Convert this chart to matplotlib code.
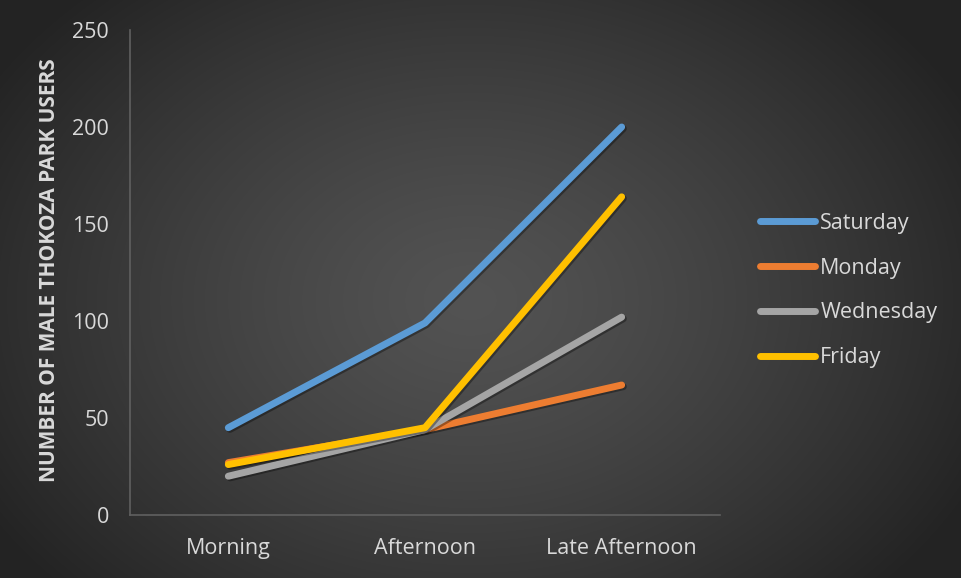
import numpy as np
import matplotlib
matplotlib.use("Agg")
import matplotlib.pyplot as plt
import matplotlib.patheffects as pe
from matplotlib.lines import Line2D

categories = ["Morning", "Afternoon", "Late Afternoon"]
series_names = ["Saturday", "Monday", "Wednesday", "Friday"]
saturday = [45, 99, 200]
monday = [27, 44, 67]
wednesday = [20, 44, 102]
friday = [26, 45, 164]
y_ticks = [0, 50, 100, 150, 200, 250]

colors = ["#5B9BD5", "#ED7D31", "#A5A5A5", "#FFC000"]
text_color = "#D9D9D9"

plt.rcParams['font.family'] = ['Open Sans', 'DejaVu Sans']

W, H = 961, 578
fig = plt.figure(figsize=(W / 100, H / 100), dpi=100)

# radial gradient background
bg = fig.add_axes([0, 0, 1, 1])
yy, xx = np.mgrid[0:H, 0:W]
cx, cy = 470, 300
r = np.sqrt(((xx - cx) / 560.0) ** 2 + ((yy - cy) / 420.0) ** 2)
r = np.clip(r, 0, 1)
v = 0.325 - (0.325 - 0.14) * r ** 1.3
img = np.dstack([v, v, v])
bg.imshow(img, extent=[0, W, H, 0], aspect='auto')
bg.axis('off')

ax = fig.add_axes([130 / W, 1 - 515 / H, (720 - 130) / W, (515 - 30) / H])
ax.patch.set_alpha(0)
x = np.arange(len(categories))
data = [saturday, monday, wednesday, friday]
shadow = [pe.SimpleLineShadow(offset=(1.2, -1.2), shadow_color='black', alpha=0.35), pe.Normal()]
for name, vals, c in zip(series_names, data, colors):
    ax.plot(x, vals, color=c, lw=5, solid_capstyle='round', solid_joinstyle='round',
            label=name, path_effects=shadow)

ax.set_xlim(-0.5, 2.5)
ax.set_ylim(0, 250)
ax.set_yticks(y_ticks)
ax.set_xticks(x)
ax.set_xticklabels(categories)
ax.tick_params(axis='both', length=0, colors=text_color, labelsize=15.5)
ax.tick_params(axis='y', pad=15)
ax.tick_params(axis='x', pad=16.5)
for s in ['top', 'right']:
    ax.spines[s].set_visible(False)
for s in ['left', 'bottom']:
    ax.spines[s].set_color('#606060')
    ax.spines[s].set_linewidth(1.2)

ax.set_ylabel("NUMBER OF MALE THOKOZA PARK USERS", color=text_color,
              fontsize=15, fontweight='bold')
ax.yaxis.set_label_coords(-0.119, 0.505)

handles = [Line2D([0], [0], color=c, lw=5, solid_capstyle='round') for c in colors]
leg = fig.legend(handles, series_names, loc='upper left',
                 bbox_to_anchor=(760 / W, 1 - 213 / H), frameon=False,
                 fontsize=15.5, labelcolor=text_color, handlelength=2.55,
                 handletextpad=0.25, labelspacing=1.1, borderpad=0, borderaxespad=0)

fig.savefig("out.png", dpi=100)
